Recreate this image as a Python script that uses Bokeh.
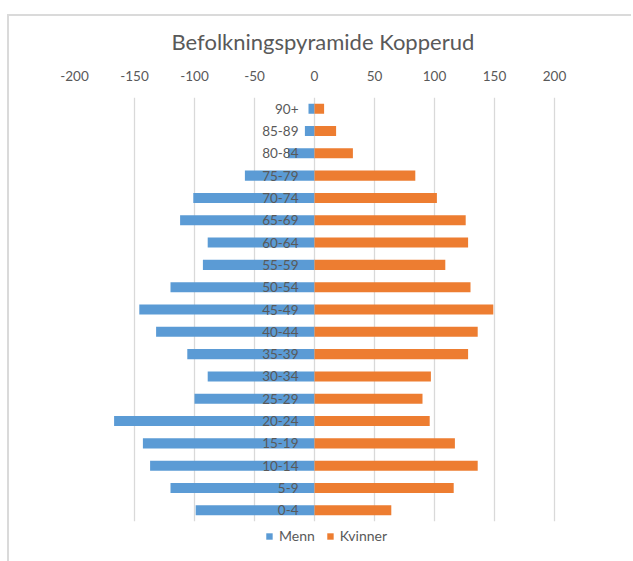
from bokeh.plotting import figure
from bokeh.models import FixedTicker, Legend, LegendItem, FactorRange, Range1d
from bokeh.embed import file_html
from bokeh.resources import INLINE

age_groups = ["0-4", "5-9", "10-14", "15-19", "20-24", "25-29", "30-34", "35-39",
              "40-44", "45-49", "50-54", "55-59", "60-64", "65-69", "70-74",
              "75-79", "80-84", "85-89", "90+"]
menn = [99, 120, 137, 143, 167, 100, 89, 106, 132, 146, 120, 93, 89, 112, 101, 58, 22, 8, 5]
kvinner = [64, 116, 136, 117, 96, 90, 97, 128, 136, 149, 130, 109, 128, 126, 102, 84, 32, 18, 8]
x_ticks = [-200, -150, -100, -50, 0, 50, 100, 150, 200]
title_text = "Befolkningspyramide Kopperud"

FONT = "Lato"
GREY = "#595959"

# x range extends a little past 200 (empty) so the legend centres on the whole chart area
p = figure(
    y_range=FactorRange(factors=age_groups, range_padding=0),
    x_range=Range1d(-200, 220),
    x_axis_location="above",
    frame_width=504, frame_height=424,
    min_border_left=74, min_border_right=53,
    min_border_top=97, min_border_bottom=28,
    output_backend="svg", toolbar_location=None,
    title=title_text,
)
p.border_fill_alpha = 0
p.styles = {
    "background": ("linear-gradient(#dadada, #dadada) 7px 14px / 2px calc(100% - 14px) no-repeat, "
                   "linear-gradient(#dadada, #dadada) 7px 14px / calc(100% - 7px) 2px no-repeat, #ffffff"),
}

p.title.align = "left"
p.title.offset = 97
p.title.text_font = FONT
p.title.text_font_size = "22px"
p.title.text_font_style = "normal"
p.title.text_color = GREY
p.title.standoff = 25

neg_menn = [-v for v in menn]
r_m = p.hbar(y=age_groups, left=neg_menn, right=0, height=0.45,
             fill_color="#5B9BD5", line_color=None)
r_k = p.hbar(y=age_groups, left=0, right=kvinner, height=0.45,
             fill_color="#ED7D31", line_color=None)

p.xaxis.ticker = FixedTicker(ticks=x_ticks)
p.xaxis.major_label_overrides = {t: str(t) for t in x_ticks}
p.xaxis.axis_line_color = None
p.xaxis.major_tick_line_color = None
p.xaxis.minor_tick_line_color = None
p.xaxis.major_label_text_font = FONT
p.xaxis.major_label_text_font_size = "13.5px"
p.xaxis.major_label_text_color = GREY
p.xaxis.major_label_standoff = 11

p.yaxis.fixed_location = 0
p.yaxis.axis_line_color = None
p.yaxis.major_tick_line_color = None
p.yaxis.minor_tick_line_color = None
p.yaxis.major_label_text_font = FONT
p.yaxis.major_label_text_font_size = "13.5px"
p.yaxis.major_label_text_color = GREY
p.yaxis.major_label_standoff = 10

p.xgrid.ticker = FixedTicker(ticks=x_ticks)
p.xgrid.grid_line_color = "#D9D9D9"
p.xgrid.grid_line_width = 1.3
p.ygrid.grid_line_color = None
p.outline_line_color = None

legend = Legend(items=[LegendItem(label="Menn", renderers=[r_m]),
                       LegendItem(label="Kvinner", renderers=[r_k])],
                orientation="horizontal", location="top_center",
                glyph_width=8, glyph_height=8, label_standoff=6, spacing=11,
                padding=4, margin=6, border_line_color=None,
                background_fill_alpha=0,
                label_text_font=FONT, label_text_font_size="14px",
                label_text_color=GREY)
p.add_layout(legend, "below")

open("out.html", "w").write(file_html(p, INLINE))
